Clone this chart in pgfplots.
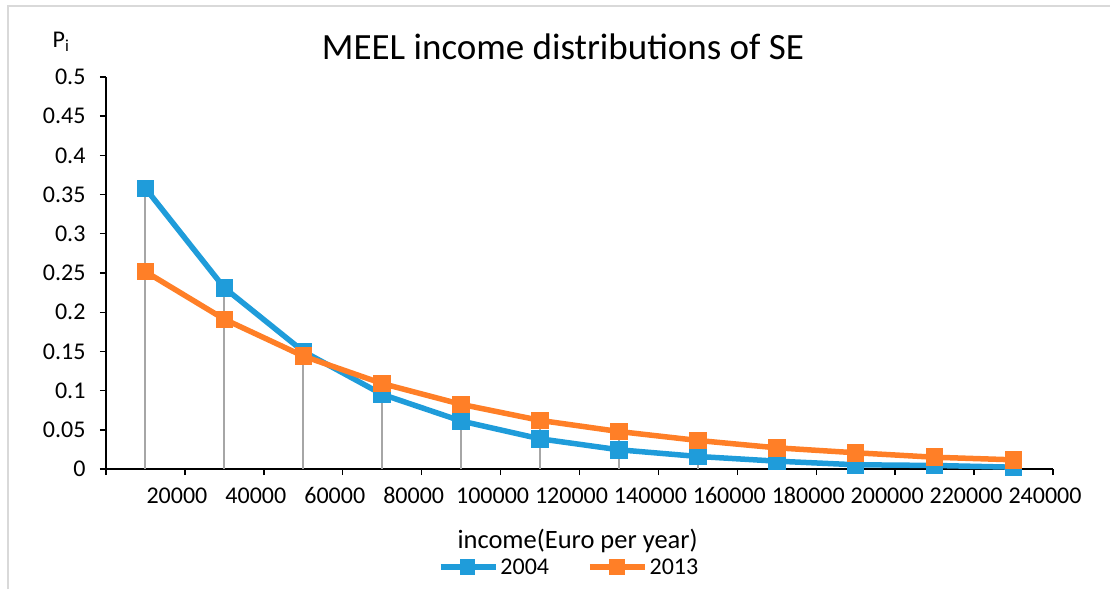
\documentclass[border=0pt]{standalone}
\usepackage{fontspec}
\setmainfont{Carlito}
\usepackage{pgfplots}
\pgfplotsset{compat=1.18}

\definecolor{serblue}{RGB}{31,156,218}
\definecolor{serorange}{RGB}{255,127,39}
\definecolor{dropgray}{RGB}{166,166,166}
\definecolor{framegray}{RGB}{217,217,217}

\begin{document}
\begin{tikzpicture}[x=1pt,y=1pt]
% page = 1110 x 589 px, axis box from (106,77) to (1053,469) px
\useasboundingbox (-106,-120) rectangle (1004,469);
\draw[framegray, line width=2pt] (-98,-120) -- (-98,463) -- (1004,463);

\begin{axis}[
    at={(0,0)}, anchor=south west,
    scale only axis,
    width=947pt, height=392pt,
    xmin=0, xmax=240000,
    ymin=0, ymax=0.5,
    axis x line*=bottom, axis y line*=left,
    axis line style={-, black, line width=1.6pt},
    tick align=outside,
    major tick length=6pt,
    tick style={black, line width=1.4pt},
    xtick={0,20000,...,240000},
    xticklabels={,20000,40000,60000,80000,100000,120000,140000,160000,180000,200000,220000,240000},
    ytick={0,0.05,...,0.5},
    scaled ticks=false,
    /pgf/number format/.cd, fixed, precision=2, 1000 sep={}, assume math mode=true,
    /pgfplots/.cd,
    ticklabel style={font=\fontsize{24}{27}\selectfont, text=black},
    xticklabel style={xshift=-8pt, yshift=-9pt},
    yticklabel style={xshift=-11pt},
    xlabel={income(Euro per year)},
    xlabel style={font=\fontsize{26.5}{30}\selectfont, at={(axis description cs:0.498,-0.184)}, anchor=center},
    legend columns=2,
    legend style={draw=none, fill=none, font=\fontsize{24}{27}\selectfont,
        at={(axis description cs:0.489,-0.25)}, anchor=center,
        /tikz/every even column/.append style={column sep=36pt}},
    legend image code/.code={%
        \draw[mark repeat=2, mark phase=2, mark size=5pt] plot coordinates {(0pt,0pt) (27pt,0pt) (55pt,0pt)};},
    clip=false,
]
% drop lines to the higher of the two series
\addplot[ycomb, dropgray, line width=2pt, no marks, forget plot] coordinates {
    (10000,0.358) (30000,0.231) (50000,0.150) (70000,0.109) (90000,0.0825)
    (110000,0.062) (130000,0.0478) (150000,0.0364) (170000,0.027) (190000,0.0207)
    (210000,0.015) (230000,0.0117)
};
\addplot[serblue, line width=5.5pt, mark=square*, mark size=6pt, mark options={solid}] coordinates {
    (10000,0.358) (30000,0.231) (50000,0.150) (70000,0.0952) (90000,0.0612)
    (110000,0.0385) (130000,0.0245) (150000,0.016) (170000,0.010) (190000,0.0054)
    (210000,0.0045) (230000,0.0023)
};
\addplot[serorange, line width=5.5pt, mark=square*, mark size=6pt, mark options={solid}] coordinates {
    (10000,0.2517) (30000,0.191) (50000,0.144) (70000,0.109) (90000,0.0825)
    (110000,0.062) (130000,0.0478) (150000,0.0364) (170000,0.027) (190000,0.0207)
    (210000,0.015) (230000,0.0117)
};
\legend{2004, 2013}
\end{axis}

\node[anchor=base, font=\fontsize{37}{42}\selectfont] at (457,409) {MEEL income distributions of SE};
\node[anchor=base, font=\fontsize{24}{27}\selectfont] at (-45,421) {P\textsubscript{i}};
\end{tikzpicture}
\end{document}
